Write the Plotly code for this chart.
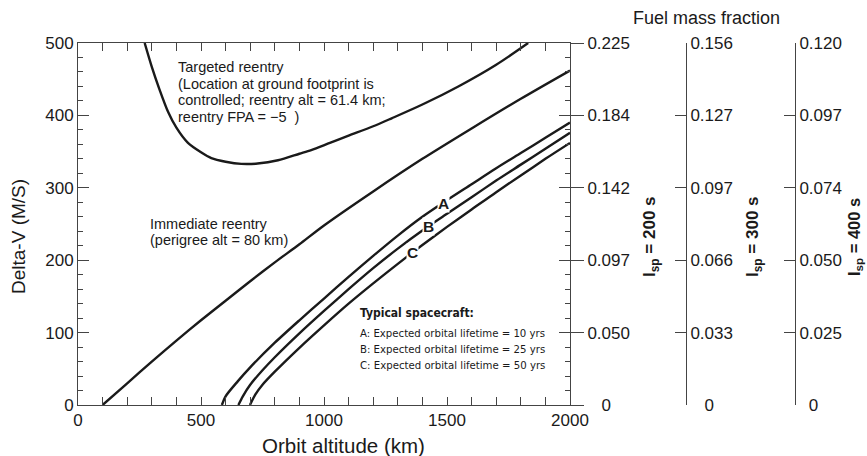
import plotly.graph_objects as go

# ---------------- data ----------------
alt_targeted = [271, 300, 330, 366, 400, 447, 500, 542, 600, 664, 730, 813, 900, 948,
                1024, 1100, 1200, 1275, 1400, 1546, 1700, 1830]
dv_targeted = [500, 467, 437, 405, 383, 362, 349, 341, 336, 333, 333.5, 338, 347, 352,
               362, 372, 385, 396, 415, 440, 470, 500]

alt_immediate = [100, 200, 300, 400, 500, 600, 700, 800, 900, 1000, 1200, 1400, 1600, 1800, 2000]
dv_immediate = [0, 30, 60, 89, 117, 144, 171, 197, 222, 248, 295, 340, 382, 423, 462]

alt_A = [585, 600, 650, 700, 800, 900, 1000, 1100, 1200, 1300, 1400, 1500, 1600, 1700, 1800, 1900, 2000]
dv_A = [0, 12, 33, 52, 86, 117, 147, 177, 206, 234, 260, 283, 305, 327, 348, 369, 390]

alt_B = [652, 670, 700, 750, 800, 900, 1000, 1100, 1200, 1300, 1400, 1500, 1600, 1700, 1800, 1900, 2000]
dv_B = [0, 12, 28, 48, 66, 99, 130, 160, 189, 216, 241, 264, 287, 310, 332, 354, 376]

alt_C = [699, 720, 750, 800, 900, 1000, 1100, 1200, 1300, 1400, 1500, 1600, 1700, 1800, 1900, 2000]
dv_C = [0, 14, 28, 46, 79, 110, 140, 168, 195, 221, 246, 270, 294, 317, 340, 362]

dv_ticks = [0, 100, 200, 300, 400, 500]
fmf_isp200 = ["\u00a0\u00a0\u00a00", "0.050", "0.097", "0.142", "0.184", "0.225"]
fmf_isp300 = ["\u00a0\u00a0\u00a00", "0.033", "0.066", "0.097", "0.127", "0.156"]
fmf_isp400 = ["\u00a0\u00a00", "0.025", "0.050", "0.074", "0.097", "0.120"]

curve_labels = ["A", "B", "C"]
legend_lines = ["A: Expected orbital lifetime = 10 yrs",
                "B: Expected orbital lifetime = 25 yrs",
                "C: Expected orbital lifetime = 50 yrs"]

# ---------------- figure ----------------
FONT = "Liberation Sans, Arial, Helvetica, sans-serif"
INK = "#1a1a1a"
AX = "#444444"
LW = 2.4

fig = go.Figure()
for xs, ys in [(alt_targeted, dv_targeted), (alt_immediate, dv_immediate),
               (alt_A, dv_A), (alt_B, dv_B), (alt_C, dv_C)]:
    fig.add_trace(go.Scatter(x=xs, y=ys, mode="lines",
                             line=dict(color=INK, width=LW, shape="spline", smoothing=0.8),
                             showlegend=False, hoverinfo="skip"))

# invisible carriers for the extra axes
for ax in ["y2", "y3", "y4"]:
    fig.add_trace(go.Scatter(x=[1000], y=[250], yaxis=ax, mode="markers",
                             marker=dict(opacity=0), showlegend=False, hoverinfo="skip"))

XDOM = (570 - 78) / 789
P3 = (686 - 78) / 789
P4 = (795 - 78) / 789

tickfont = dict(family=FONT, size=17, color=INK)

fig.update_layout(
    width=867, height=456,
    margin=dict(l=78, r=0, t=43, b=51, autoexpand=False),
    paper_bgcolor="white", plot_bgcolor="white",
    font=dict(family=FONT, color=INK),
    xaxis=dict(domain=[0, XDOM], range=[0, 2000], tickvals=[0, 500, 1000, 1500, 2000],
               ticks="inside", ticklen=8, tickcolor=AX, showline=True, linecolor=AX,
               linewidth=1, mirror="allticks", showgrid=False, zeroline=False,
               tickfont=tickfont, automargin=False,
               minor=dict(ticks="inside", ticklen=5, dtick=100, tickcolor=AX, showgrid=False)),
    yaxis=dict(domain=[0, 1], range=[0, 500], tickvals=dv_ticks,
               ticks="inside", ticklen=11, tickcolor=AX, showline=True, linecolor=AX,
               linewidth=1, mirror="allticks", showgrid=False, zeroline=False,
               tickfont=tickfont, automargin=False,
               minor=dict(ticks="inside", ticklen=5, dtick=20, tickcolor=AX, showgrid=False)),
    yaxis2=dict(overlaying="y", anchor="x", side="right", range=[0, 500],
                tickvals=dv_ticks, ticktext=fmf_isp200, ticks="outside", ticklen=13,
                tickcolor=AX, showline=False, showgrid=False, zeroline=False,
                tickfont=tickfont, automargin=False),
    yaxis3=dict(overlaying="y", anchor="free", position=P3, side="right", range=[0, 500],
                tickvals=dv_ticks, ticktext=fmf_isp300, ticks="inside", ticklen=11,
                tickcolor=AX, showline=True, linecolor=AX, linewidth=1,
                showgrid=False, zeroline=False, tickfont=tickfont, automargin=False),
    yaxis4=dict(overlaying="y", anchor="free", position=P4, side="right", range=[0, 500],
                tickvals=dv_ticks, ticktext=fmf_isp400, ticks="inside", ticklen=11,
                tickcolor=AX, showline=True, linecolor=AX, linewidth=1,
                showgrid=False, zeroline=False, tickfont=tickfont, automargin=False),
)

ann = []
def paper(text, px, py, size, angle=0, **kw):
    ann.append(dict(text=text, xref="paper", yref="paper",
                    x=(px - 78) / 789, y=(405 - py) / 362, showarrow=False,
                    textangle=angle, xanchor="center", yanchor="middle",
                    font=dict(family=FONT, size=size, color=INK), **kw))

paper("Orbit altitude (km)", 343, 445, 20.5)
paper("Delta-V (M/S)", 18, 237, 19, angle=-90)
paper("Fuel mass fraction", 706, 18, 18)
paper("<b>I<sub>sp</sub> = 200 s</b>", 651, 237, 17, angle=-90)
paper("<b>I<sub>sp</sub> = 300 s</b>", 754, 237, 17, angle=-90)
paper("<b>I<sub>sp</sub> = 400 s</b>", 855, 237, 16.5, angle=-90)

def data_text(text, x, y, size, family=FONT, **kw):
    ann.append(dict(text=text, xref="x", yref="y", x=x, y=y, showarrow=False,
                    xanchor="left", yanchor="middle",
                    font=dict(family=family, size=size, color=INK), **kw))

targeted = ["Targeted reentry", "(Location at ground footprint is",
            "controlled; reentry alt = 61.4 km;", "reentry FPA = \u22125  )"]
for t, v in zip(targeted, [467, 443, 421, 398]):
    data_text(t, 400, v, 14.5)
for t, v in zip(["Immediate reentry", "(perigree alt = 80 km)"], [250, 228]):
    data_text(t, 285, v, 14.5)

COND = "DejaVu Sans Condensed, DejaVu Sans, sans-serif"
data_text("<b>Typical spacecraft:</b>", 1138, 127, 12, family=COND)
for t, v in zip(legend_lines, [99.4, 77.3, 53.9]):
    data_text(t, 1138, v, 11.3, family=COND)

for lab, (x, y) in zip(curve_labels, [(1484, 279), (1423, 246), (1358, 211)]):
    ann.append(dict(text="<b>%s</b>" % lab, xref="x", yref="y", x=x, y=y, showarrow=False,
                    xanchor="center", yanchor="middle", bgcolor="white", borderpad=0,
                    font=dict(family=FONT, size=15.5, color=INK)))

fig.update_layout(annotations=ann)
fig.write_html("out.html")
